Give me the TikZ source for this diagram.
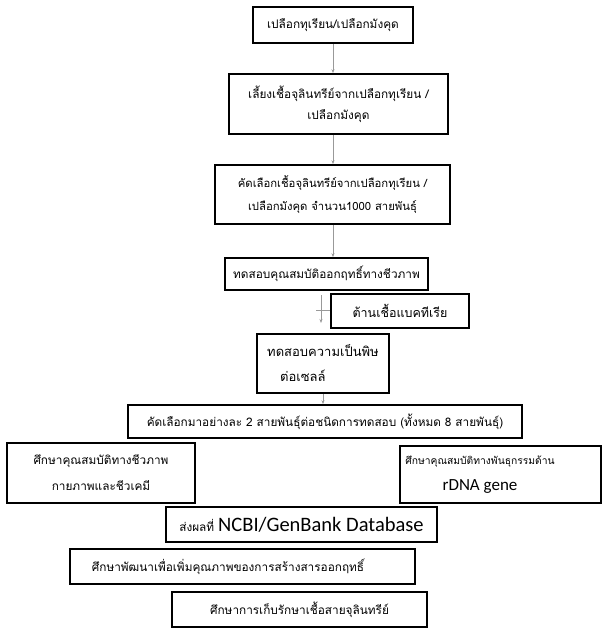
\documentclass[tikz,border=0pt]{standalone}
\usepackage{fontspec}
\newfontfamily\thai[Script=Thai]{Loma}
\newfontfamily\lat{Carlito}
\usetikzlibrary{arrows.meta}
\begin{document}
\begin{tikzpicture}[x=1pt,y=-1pt,
  box/.style={draw, line width=1.7pt, inner sep=0pt, align=center,
    font=\thai\fontsize{11.8}{21}\selectfont},
  lbl/.style={inner sep=0pt, align=center, font=\thai\fontsize{11.8}{21}\selectfont},
  arr/.style={draw=gray!80, line width=0.6pt, -{Stealth[length=4pt,width=3pt]}},
  link/.style={draw=gray!80, line width=0.6pt}]
\useasboundingbox (0,0) rectangle (603,630);
\fill[white] (0,0) rectangle (603,630);
\node[box, minimum width=160, minimum height=36] (b1) at (333,25) {เปลือกทุเรียน/เปลือกมังคุด};
\node[box, minimum width=219, minimum height=60] (b2) at (338.5,104) {เลี้ยงเชื้อจุลินทรีย์จากเปลือกทุเรียน /\\เปลือกมังคุด};
\node[box, minimum width=235, minimum height=59, font=\thai\fontsize{11.3}{23}\selectfont] (b3) at (332.5,194.5) {คัดเลือกเชื้อจุลินทรีย์จากเปลือกทุเรียน /\\เปลือกมังคุด จำนวน1000 สายพันธุ์};
\node[box, minimum width=203, minimum height=32] (b4) at (326.5,274) {ทดสอบคุณสมบัติออกฤทธิ์ทางชีวภาพ};
\node[box, minimum width=138, minimum height=34, font=\thai\fontsize{12.5}{21}\selectfont] (b5) at (400,311) {ต้านเชื้อแบคทีเรีย};
\node[box, minimum width=132, minimum height=59] (b6) at (323,363.5) {};
\node[lbl, align=left, font=\thai\fontsize{13}{25}\selectfont] (b6t) at (b6.center) {ทดสอบความเป็นพิษ\\\hspace*{13pt}ต่อเซลล์};
\node[box, minimum width=394, minimum height=33] (b7) at (325,421.5) {คัดเลือกมาอย่างละ 2 สายพันธุ์ต่อชนิดการทดสอบ (ทั้งหมด 8 สายพันธุ์)};
\node[box, minimum width=188, minimum height=60, font=\thai\fontsize{11.8}{26}\selectfont] (b8) at (101,473) {ศึกษาคุณสมบัติทางชีวภาพ\\กายภาพและชีวเคมี};
\node[box, minimum width=201, minimum height=57] (b9) at (500.5,474.5) {};
\node[lbl, font=\thai\fontsize{10.3}{26}\selectfont] (b9t) at (480,474.5) {ศึกษาคุณสมบัติทางพันธุกรรมด้าน\\{\lat\fontsize{17}{20}\selectfont rDNA gene}};
\node[box, minimum width=271, minimum height=35] (b10) at (301.5,524.5) {ส่งผลที่ {\lat\fontsize{20.5}{22}\selectfont NCBI/GenBank Database}};
\node[box, minimum width=345, minimum height=35] (b11) at (242.5,566.5) {};
\node[lbl] (b11t) at (228,566.5) {ศึกษาพัฒนาเพื่อเพิ่มคุณภาพของการสร้างสารออกฤทธิ์};
\node[box, minimum width=255, minimum height=35] (b12) at (299.5,609.5) {ศึกษาการเก็บรักษาเชื้อสายจุลินทรีย์};
% connectors
\draw[arr] (b1.south) -- (b2.north -| b1.south);
\draw[arr] (b2.south -| b1.south) -- (b3.north -| b1.south);
\draw[arr] (b3.south -| b1.south) -- (b4.north -| b1.south);
\coordinate (s1) at (321,295);
\coordinate (s2) at (321,323);
\coordinate (h1) at (316,310);
\draw[arr] (s1) -- (s2);
\draw[link] (h1) -- (h1 -| b5.west);
\draw[arr] (b6.south) -- (b7.north -| b6.south);
\end{tikzpicture}
\end{document}
